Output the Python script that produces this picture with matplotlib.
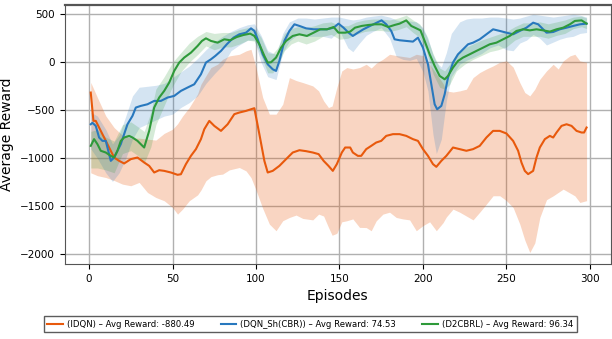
import matplotlib
matplotlib.use("Agg")
import matplotlib.pyplot as plt
import numpy as np

# values (episode, average reward)
idqn_ep = [1, 2.6, 4, 7, 11, 15, 18, 21, 25, 29, 33, 36, 39, 42, 45, 49, 53, 55, 58, 61, 64, 67, 69, 72,
           75, 79, 83, 87, 90, 94, 97, 99, 102, 105, 107, 110, 114, 118, 122, 126, 130, 134, 137.5, 140.5,
           143.4, 146, 148.4, 151.4, 153.4, 156.4, 158, 161, 163, 166, 169, 172, 175, 178, 182, 186, 190,
           194, 197, 200, 203, 206, 208, 211, 214, 218, 222, 226, 230, 234, 238, 242, 246, 250, 254, 257,
           259, 261, 263, 266, 268, 270, 273, 276, 278, 280, 283, 286, 289, 292, 295, 296.5, 298]
idqn_mean = [-315, -610, -610, -714, -852, -991, -1026, -1053, -1008, -991, -1043, -1078, -1147, -1123,
             -1130, -1147, -1171, -1165, -1060, -974, -904, -800, -697, -610, -662, -714, -645, -540, -523,
             -506, -489, -478, -748, -1026, -1147, -1130, -1078, -1008, -939, -915, -925, -939, -956, -1026,
             -1078, -1130, -1060, -939, -887, -887, -939, -974, -974, -904, -870, -835, -818, -766, -748,
             -748, -766, -800, -818, -904, -974, -1060, -1088, -1026, -974, -887, -904, -921, -904, -870,
             -783, -714, -714, -741, -818, -921, -1043, -1130, -1164, -1130, -991, -887, -800, -766, -783,
             -731, -662, -645, -662, -714, -731, -731, -679]

idqn_band_ep = [1, 5, 10, 15, 20, 25, 30, 35, 40, 45, 50, 53, 56, 60, 65, 67, 70, 73, 77, 80, 84, 90, 94,
                97, 100, 104, 108, 112, 116, 120, 124, 128, 134, 137.5, 140.5, 143.4, 145.6, 148.4, 151.4,
                154.4, 158, 162, 166, 169, 172, 176, 180, 184, 188, 192, 196, 200, 204, 208, 212, 214, 218,
                222, 226, 230, 234, 238, 242, 246, 250, 254, 258, 261, 264, 267, 270, 274, 278, 281, 284,
                288, 291, 294, 298]
idqn_upper = [-210, -367, -558, -680, -760, -790, -790, -800, -810, -740, -697, -640, -560, -471, -330,
              -229, -140, -55, -20, 30, 66, 83, 118, 135, -55, -367, -540, -540, -437, -160, -190, -211,
              -246, -298, -402, -471, -455, -263, -90, -55, -70, -55, -21, -60, -10, 31, 83, 70, 60, 50, 83,
              70, -20, -120, -220, -298, -310, -298, -280, -160, -107, -70, -38, 0, 15, -50, -211, -315,
              -350, -280, -177, -90, -21, -70, 14, 66, 83, 14, 0]
idqn_lower = [-1150, -1180, -1199, -1230, -1268, -1285, -1250, -1355, -1407, -1441, -1511, -1580, -1528,
              -1441, -1380, -1330, -1233, -1190, -1170, -1164, -1120, -1095, -1130, -1200, -1330, -1520,
              -1684, -1753, -1649, -1615, -1590, -1625, -1640, -1580, -1600, -1718, -1800, -1780, -1660,
              -1649, -1630, -1718, -1720, -1753, -1650, -1580, -1560, -1615, -1630, -1640, -1753, -1700,
              -1660, -1753, -1670, -1610, -1528, -1560, -1600, -1640, -1560, -1476, -1389, -1389, -1440,
              -1511, -1684, -1850, -1979, -1880, -1615, -1430, -1390, -1355, -1320, -1360, -1390, -1459,
              -1440]

dqn_ep = [1, 2, 4, 6, 8, 10, 11, 13, 15, 17, 19, 21, 23, 26, 28, 31, 35, 39, 43, 47, 51, 55, 59, 63, 67,
          70, 73, 75.6, 79, 82.5, 86.5, 90, 94, 97, 99, 101, 104, 107, 110, 112, 114, 117, 120, 123, 126,
          130, 134.5, 138.5, 142.5, 146.5, 149.4, 152.4, 155.4, 158, 161, 164.3, 168.3, 172.3, 175.2, 178,
          181, 183, 186, 190, 194, 197, 200, 203, 205, 207, 208.5, 211, 213, 215, 218, 221, 224, 227, 230,
          234, 238, 242, 246, 250, 254, 258, 262, 266, 269, 272, 274, 278, 282, 286, 290, 294, 298]
dqn_mean = [-645, -630, -662, -783, -818, -818, -887, -1026, -991, -921, -852, -748, -645, -558, -471,
            -454, -437, -402, -402, -367, -350, -298, -263, -229, -125, -3, 31, 66, 118, 187, 256, 291, 308,
            353, 326, 239, 83, -21, -73, -90, 14, 222, 326, 395, 378, 353, 343, 343, 343, 360, 402, 360,
            308, 274, 308, 343, 378, 412, 436, 395, 326, 239, 229, 222, 215, 256, 152, -21, -229, -437, -489,
            -454, -333, -159, -3, 83, 135, 187, 204, 239, 291, 343, 326, 308, 291, 326, 360, 412, 395, 343,
            308, 315, 343, 360, 378, 395, 402]

dqn_band_ep = [1, 5, 10, 14, 18, 22, 26, 30, 35, 40, 45, 50, 55, 60, 65, 70, 75, 80, 85, 90, 95, 99, 103,
               107, 112, 116, 120, 125, 130, 135, 140, 145, 150, 155, 158, 162, 166, 170, 175, 180, 184,
               188, 192, 196, 200, 203, 206, 208, 211, 214, 217, 222, 226, 230, 235, 240, 245, 250, 254,
               258, 262, 266, 270, 274, 278, 282, 286, 290, 294, 298]
dqn_upper = [-520, -560, -700, -850, -760, -560, -350, -260, -250, -240, -220, -160, -100, -40, 40, 130,
             210, 270, 320, 360, 390, 400, 280, 120, 80, 300, 420, 460, 460, 450, 460, 470, 470, 450, 440,
             450, 470, 480, 490, 470, 440, 430, 430, 420, 360, 250, 80, 0, -50, 100, 300, 420, 450, 460,
             460, 470, 470, 460, 450, 460, 480, 500, 490, 480, 470, 480, 490, 500, 490, 470]
dqn_lower = [-900, -1000, -1150, -1240, -1150, -1000, -800, -680, -640, -600, -560, -540, -470, -420,
             -350, -220, -120, -30, 120, 180, 230, 230, 0, -150, -180, 100, 220, 290, 270, 270, 270, 250,
             330, 150, 110, 200, 280, 320, 360, 250, 60, 30, 20, 40, -100, -300, -750, -950, -800, -400,
             -150, -20, 20, 50, 90, 150, 180, 130, 120, 200, 230, 290, 250, 180, 210, 240, 260, 270, 300,
             310]

d2_ep = [1, 3, 5, 7, 10, 13, 15, 17, 19, 21, 24, 26, 29, 32, 33, 36, 39, 42, 45, 48, 51, 54, 57, 61, 65,
         67.6, 70, 73, 77, 81, 84.5, 88.5, 92.5, 96.5, 99, 102, 105, 107, 109, 112, 115, 118, 122, 126,
         130.5, 134.5, 138.5, 142.5, 146.5, 149.4, 153.4, 156.4, 159.3, 163.3, 167.3, 171.3, 175.2, 179.2,
         183, 186, 190, 193, 196, 198.5, 201, 204, 207, 210, 213, 215, 218, 221, 224, 228, 232, 236, 240,
         244, 248, 252, 256, 260, 264, 268, 272, 276, 280, 284, 288, 291, 295, 298]
d2_mean = [-870, -800, -852, -921, -939, -974, -991, -921, -818, -783, -766, -783, -818, -870, -887, -714,
           -471, -367, -298, -211, -90, -3, 49, 100, 170, 222, 249, 222, 204, 239, 229, 263, 284, 298, 274,
           187, 66, -3, 0, 49, 152, 222, 274, 291, 274, 308, 343, 343, 367, 308, 308, 319, 360, 378, 388,
           395, 395, 367, 388, 402, 436, 378, 353, 332, 222, 83, -38, -142, -177, -142, -55, 14, 49, 83,
           118, 152, 187, 204, 239, 274, 326, 343, 332, 343, 332, 319, 343, 360, 395, 430, 436, 402]

d2_band_ep = [1, 5, 10, 15, 20, 25, 30, 33, 37, 40, 45, 50, 55, 60, 65, 70, 75, 80, 85, 90, 95, 99, 103,
              107, 110, 113, 117, 121, 125, 130, 135, 140, 145, 150, 155, 160, 165, 170, 175, 180, 185,
              190, 194, 198, 202, 206, 210, 213, 216, 220, 225, 230, 235, 240, 245, 250, 255, 260, 265,
              270, 275, 280, 285, 290, 295, 298]
d2_upper = [-720, -700, -780, -820, -650, -620, -680, -720, -520, -280, -150, 0, 100, 200, 270, 320, 300,
            310, 310, 340, 360, 350, 260, 100, 90, 150, 300, 350, 370, 360, 380, 410, 420, 380, 380, 420,
            440, 450, 450, 440, 460, 490, 440, 400, 280, 90, -60, -90, -20, 90, 150, 190, 230, 260, 290,
            320, 370, 410, 410, 420, 400, 420, 440, 470, 480, 460]
d2_lower = [-1100, -1100, -1120, -1150, -950, -920, -980, -1050, -880, -650, -450, -250, -100, 0, 80, 170,
            130, 160, 160, 190, 230, 220, 70, -110, -110, -30, 120, 190, 220, 190, 220, 270, 290, 240, 250,
            290, 320, 330, 330, 320, 340, 370, 310, 260, 120, -120, -260, -280, -230, -90, -20, 30, 70,
            110, 130, 160, 230, 270, 270, 270, 250, 280, 300, 350, 370, 350]

labels = ["(IDQN) – Avg Reward: -880.49",
          "(DQN_Sh(CBR)) – Avg Reward: 74.53",
          "(D2CBRL) – Avg Reward: 96.34"]
colors = ["#E8590C", "#2878BE", "#2E9A3A"]

fig = plt.figure(figsize=(6.12, 3.39), dpi=100)
ax = fig.add_axes([0.106, 0.221, 0.892, 0.764])

# shaded spread first, then the mean lines on top
ax.fill_between(idqn_band_ep, idqn_lower, idqn_upper, color=colors[0], alpha=0.25, linewidth=0)
ax.fill_between(dqn_band_ep, dqn_lower, dqn_upper, color=colors[1], alpha=0.2, linewidth=0)
ax.fill_between(d2_band_ep, d2_lower, d2_upper, color=colors[2], alpha=0.2, linewidth=0)

ax.plot(idqn_ep, idqn_mean, color=colors[0], lw=1.5, label=labels[0])
ax.plot(dqn_ep, dqn_mean, color=colors[1], lw=1.5, label=labels[1])
ax.plot(d2_ep, d2_mean, color=colors[2], lw=1.5, label=labels[2])

ax.set_xlim(-14.5, 312.5)
ax.set_ylim(-2100, 595)
ax.set_xticks([0, 50, 100, 150, 200, 250, 300])
ax.set_yticks([-2000, -1500, -1000, -500, 0, 500])
ax.tick_params(labelsize=7.5)
ax.grid(True, color="#b0b0b0", linewidth=1)
ax.set_axisbelow(True)
for s in ax.spines.values():
    s.set_color("#555555")
ax.spines["top"].set_linewidth(1.6)

ax.set_xlabel("Episodes", fontsize=10)
ax.set_ylabel("Average Reward", fontsize=10)
ax.yaxis.set_label_coords(-0.093, 0.5)

fig.legend(loc="center", bbox_to_anchor=(0.507, 0.044), ncol=3, fontsize=6.1,
           frameon=True, edgecolor="#333333", fancybox=False, columnspacing=3.1,
           handlelength=1.8, handletextpad=0.5, borderpad=0.45)

fig.savefig("out.png", dpi=100)
